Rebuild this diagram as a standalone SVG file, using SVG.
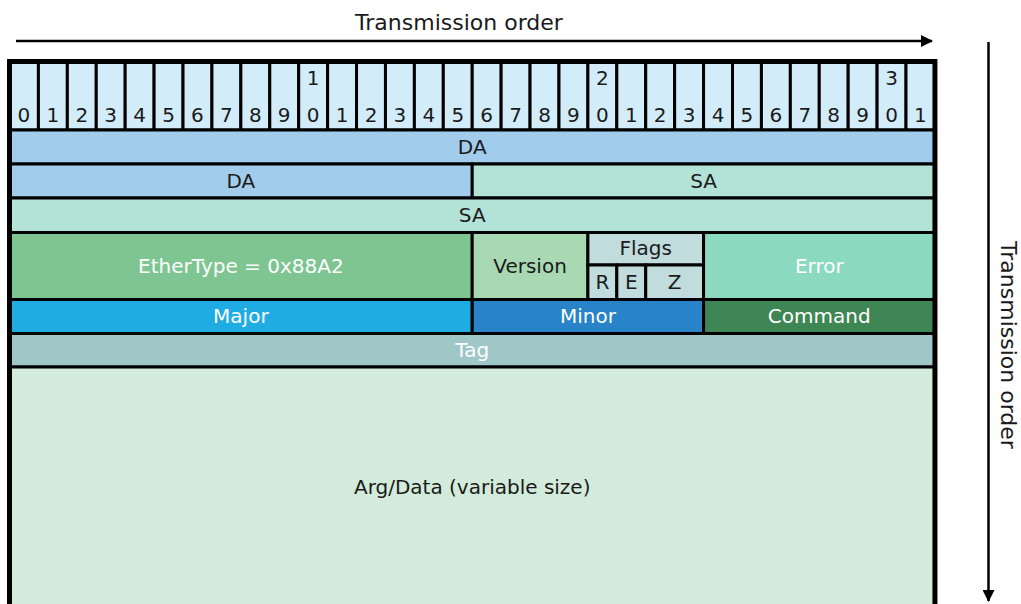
<svg xmlns="http://www.w3.org/2000/svg" width="1021" height="604" viewBox="0 0 1021 604">
<style>
text{font-family:"DejaVu Sans","Noto Sans","Liberation Sans",sans-serif;font-size:20px;text-anchor:middle;fill:#1a1a1a}
.t{font-size:22px}
.w{fill:#ffffff}
.f{stroke:#000;stroke-width:3}
.hd{fill:#D2EDF9;stroke:#000;stroke-width:3}
</style>
<defs>
<marker id="ah" viewBox="0 0 12 12" refX="11" refY="6" markerWidth="12" markerHeight="12" markerUnits="userSpaceOnUse" orient="auto">
<path d="M0,0 L12,6 L0,12 Z" fill="#000"/>
</marker>
</defs>
<rect width="1021" height="604" fill="#fff"/>

<g id="connectors">
<line x1="16" y1="41" x2="932" y2="41" stroke="#000" stroke-width="2.5" marker-end="url(#ah)"/>
<line x1="988.5" y1="42" x2="988.5" y2="601" stroke="#000" stroke-width="2.5" marker-end="url(#ah)"/>
</g>
<g id="labels-arrows">
<text class="t" x="459" y="30">Transmission order</text>
<text class="t" transform="translate(1001,345) rotate(90)">Transmission order</text>
</g>

<g id="header">
<rect class="hd" x="9.5" y="61.5" width="28.92" height="68.5"/>
<rect class="hd" x="38.42" y="61.5" width="28.92" height="68.5"/>
<rect class="hd" x="67.34" y="61.5" width="28.92" height="68.5"/>
<rect class="hd" x="96.26" y="61.5" width="28.92" height="68.5"/>
<rect class="hd" x="125.18" y="61.5" width="28.92" height="68.5"/>
<rect class="hd" x="154.1" y="61.5" width="28.92" height="68.5"/>
<rect class="hd" x="183.02" y="61.5" width="28.92" height="68.5"/>
<rect class="hd" x="211.94" y="61.5" width="28.92" height="68.5"/>
<rect class="hd" x="240.86" y="61.5" width="28.92" height="68.5"/>
<rect class="hd" x="269.78" y="61.5" width="28.92" height="68.5"/>
<rect class="hd" x="298.7" y="61.5" width="28.92" height="68.5"/>
<rect class="hd" x="327.62" y="61.5" width="28.92" height="68.5"/>
<rect class="hd" x="356.54" y="61.5" width="28.92" height="68.5"/>
<rect class="hd" x="385.46" y="61.5" width="28.92" height="68.5"/>
<rect class="hd" x="414.38" y="61.5" width="28.92" height="68.5"/>
<rect class="hd" x="443.3" y="61.5" width="28.92" height="68.5"/>
<rect class="hd" x="472.22" y="61.5" width="28.92" height="68.5"/>
<rect class="hd" x="501.14" y="61.5" width="28.92" height="68.5"/>
<rect class="hd" x="530.06" y="61.5" width="28.92" height="68.5"/>
<rect class="hd" x="558.98" y="61.5" width="28.92" height="68.5"/>
<rect class="hd" x="587.9" y="61.5" width="28.92" height="68.5"/>
<rect class="hd" x="616.82" y="61.5" width="28.92" height="68.5"/>
<rect class="hd" x="645.74" y="61.5" width="28.92" height="68.5"/>
<rect class="hd" x="674.66" y="61.5" width="28.92" height="68.5"/>
<rect class="hd" x="703.58" y="61.5" width="28.92" height="68.5"/>
<rect class="hd" x="732.5" y="61.5" width="28.92" height="68.5"/>
<rect class="hd" x="761.42" y="61.5" width="28.92" height="68.5"/>
<rect class="hd" x="790.34" y="61.5" width="28.92" height="68.5"/>
<rect class="hd" x="819.26" y="61.5" width="28.92" height="68.5"/>
<rect class="hd" x="848.18" y="61.5" width="28.92" height="68.5"/>
<rect class="hd" x="877.1" y="61.5" width="28.92" height="68.5"/>
<rect class="hd" x="906.02" y="61.5" width="28.92" height="68.5"/>
<text x="23.96" y="122">0</text>
<text x="52.88" y="122">1</text>
<text x="81.8" y="122">2</text>
<text x="110.72" y="122">3</text>
<text x="139.64" y="122">4</text>
<text x="168.56" y="122">5</text>
<text x="197.48" y="122">6</text>
<text x="226.4" y="122">7</text>
<text x="255.32" y="122">8</text>
<text x="284.24" y="122">9</text>
<text x="313.16" y="85">1</text>
<text x="313.16" y="122">0</text>
<text x="342.08" y="122">1</text>
<text x="371" y="122">2</text>
<text x="399.92" y="122">3</text>
<text x="428.84" y="122">4</text>
<text x="457.76" y="122">5</text>
<text x="486.68" y="122">6</text>
<text x="515.6" y="122">7</text>
<text x="544.52" y="122">8</text>
<text x="573.44" y="122">9</text>
<text x="602.36" y="85">2</text>
<text x="602.36" y="122">0</text>
<text x="631.28" y="122">1</text>
<text x="660.2" y="122">2</text>
<text x="689.12" y="122">3</text>
<text x="718.04" y="122">4</text>
<text x="746.96" y="122">5</text>
<text x="775.88" y="122">6</text>
<text x="804.8" y="122">7</text>
<text x="833.72" y="122">8</text>
<text x="862.64" y="122">9</text>
<text x="891.56" y="85">3</text>
<text x="891.56" y="122">0</text>
<text x="920.48" y="122">1</text>
</g>

<g id="da1"><rect class="f" x="9.5" y="130" width="925.44" height="34" fill="#A2CCEC"/><text x="472.22" y="154">DA</text></g>
<g id="da2"><rect class="f" x="9.5" y="164" width="462.72" height="34" fill="#A2CCEC"/><text x="240.86" y="188">DA</text></g>
<g id="sa1"><rect class="f" x="472.22" y="164" width="462.72" height="34" fill="#B3E2D6"/><text x="703.58" y="188">SA</text></g>
<g id="sa2"><rect class="f" x="9.5" y="198" width="925.44" height="34.5" fill="#B3E2D6"/><text x="472.22" y="222">SA</text></g>
<g id="ethertype"><rect class="f" x="9.5" y="232.5" width="462.72" height="67" fill="#7EC592"/><text class="w" x="240.86" y="273">EtherType = 0x88A2</text></g>
<g id="version"><rect class="f" x="472.22" y="232.5" width="115.68" height="67" fill="#A9D9B3"/><text x="530.06" y="273">Version</text></g>
<g id="flags"><rect class="f" x="587.9" y="232.5" width="115.68" height="32.5" fill="#C0DCDC"/><text x="645.74" y="255">Flags</text></g>
<g id="flag-r"><rect class="f" x="587.9" y="265" width="28.92" height="34.5" fill="#C0DCDC"/><text x="602.36" y="289">R</text></g>
<g id="flag-e"><rect class="f" x="616.82" y="265" width="28.92" height="34.5" fill="#C0DCDC"/><text x="631.28" y="289">E</text></g>
<g id="flag-z"><rect class="f" x="645.74" y="265" width="57.84" height="34.5" fill="#C0DCDC"/><text x="674.66" y="289">Z</text></g>
<g id="error"><rect class="f" x="703.58" y="232.5" width="231.36" height="67" fill="#8BDAC0"/><text class="w" x="819.26" y="273">Error</text></g>
<g id="major"><rect class="f" x="9.5" y="299.5" width="462.72" height="34" fill="#1FACE3"/><text class="w" x="240.86" y="323">Major</text></g>
<g id="minor"><rect class="f" x="472.22" y="299.5" width="231.36" height="34" fill="#2883C8"/><text class="w" x="587.9" y="323">Minor</text></g>
<g id="command"><rect class="f" x="703.58" y="299.5" width="231.36" height="34" fill="#3E8653"/><text class="w" x="819.26" y="323">Command</text></g>
<g id="tag"><rect class="f" x="9.5" y="333.5" width="925.44" height="33.5" fill="#A0C7C7"/><text class="w" x="472.22" y="357">Tag</text></g>
<g id="argdata"><rect class="f" x="9.5" y="367" width="925.44" height="240" fill="#D3EBDB"/><text x="472.22" y="494">Arg/Data (variable size)</text></g>

<rect x="9.5" y="61.5" width="925.44" height="545" fill="none" stroke="#000" stroke-width="5"/>
</svg>
